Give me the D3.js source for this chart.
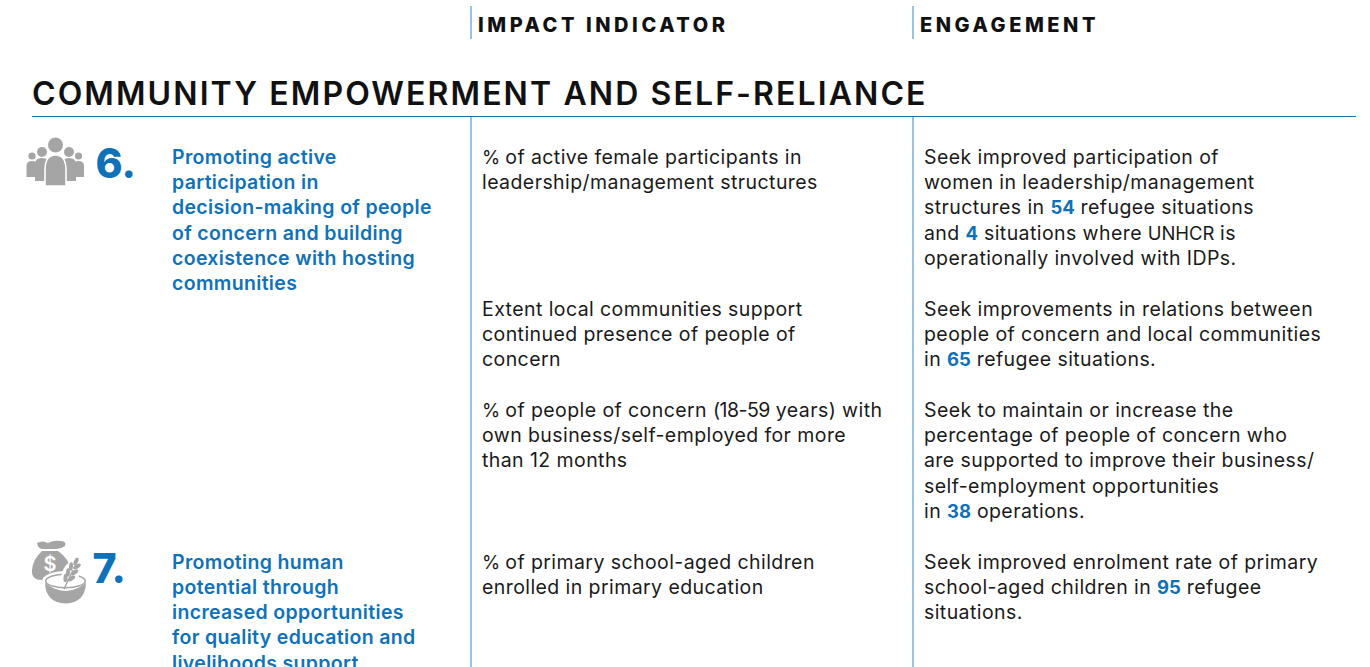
<!DOCTYPE html>
<html><head><meta charset="utf-8">
<style>html,body{margin:0;padding:0;background:#fff;overflow:hidden}svg{display:block}text{font-family:Inter,"Noto Sans",sans-serif}</style>
<script src="https://cdn.jsdelivr.net/npm/d3@7/dist/d3.min.js"></script></head><body><script>
const columnHeads = ["IMPACT INDICATOR", "ENGAGEMENT"];
const sectionTitle = "COMMUNITY EMPOWERMENT AND SELF-RELIANCE";
const goalNumbers = [{label:"6.", row:0},{label:"7.", row:16}];
const goalLines = [
 [0,"Promoting active"],[1,"participation in"],[2,"decision-making of people"],[3,"of concern and building"],[4,"coexistence with hosting"],[5,"communities"],
 [16,"Promoting human"],[17,"potential through"],[18,"increased opportunities"],[19,"for quality education and"],[20,"livelihoods support"]];
const indicatorLines = [
 [0,"% of active female participants in"],[1,"leadership/management structures"],
 [6,"Extent local communities support"],[7,"continued presence of people of"],[8,"concern"],
 [10,"% of people of concern (18-59 years) with"],[11,"own business/self-employed for more"],[12,"than 12 months"],
 [16,"% of primary school-aged children"],[17,"enrolled in primary education"]];
const engagementLines = [
 [0,"Seek improved participation of"],[1,"women in leadership/management"],[2,"structures in *54* refugee situations"],[3,"and *4* situations where UNHCR is"],[4,"operationally involved with IDPs."],
 [6,"Seek improvements in relations between"],[7,"people of concern and local communities"],[8,"in *65* refugee situations."],
 [10,"Seek to maintain or increase the"],[11,"percentage of people of concern who"],[12,"are supported to improve their business/"],[13,"self-employment opportunities"],[14,"in *38* operations."],
 [16,"Seek improved enrolment rate of primary"],[17,"school-aged children in *95* refugee"],[18,"situations."]];

const W=1370,H=667, BLUE="#0f72b9", INK="#1a1a1a", GREY="#a5a5a5", RULE="#6ea9d8";
const svg=d3.select("body").append("svg").attr("width",W).attr("height",H);
const rowY=d3.scaleLinear().domain([0,20]).range([157.1,663.1]);
const x={goal:172,indicator:482,engagement:924};

[471,913].forEach(c=>{
 svg.append("line").attr("x1",c).attr("x2",c).attr("y1",6).attr("y2",39).attr("stroke",RULE).attr("stroke-width",1.4);
 svg.append("line").attr("x1",c).attr("x2",c).attr("y1",117).attr("y2",H).attr("stroke",RULE).attr("stroke-width",1.4);
});
svg.append("line").attr("x1",32).attr("x2",1356).attr("y1",116.5).attr("y2",116.5).attr("stroke",BLUE).attr("stroke-width",1.2);

svg.selectAll("text.head").data(columnHeads).join("text").attr("class","head")
 .attr("x",(d,i)=>[478,920][i]).attr("y",32).text(d=>d)
 .attr("font-size",20).attr("font-weight",800).attr("letter-spacing",3.55).attr("fill","#111");
svg.append("text").attr("x",32).attr("y",105).text(sectionTitle)
 .attr("font-size",32).attr("font-weight",600).attr("letter-spacing",2.1).attr("fill","#111");

function lines(data,key,color,weight,spacing){
 const t=svg.append("g").selectAll("text").data(data).join("text")
  .attr("x",x[key]).attr("y",d=>rowY(d[0])+6.6).attr("font-size",19.5).attr("letter-spacing",spacing)
  .attr("font-weight",weight).attr("fill",color);
 t.each(function(d){
  const s=d3.select(this);
  d[1].split("*").forEach((seg,i)=>{
   if(i%2){ s.append("tspan").text(seg).attr("font-weight",700).attr("font-size",18.5).attr("letter-spacing",0).attr("fill",BLUE); return; }
   seg.split(/(%|\(18-59|UNHCR)/).forEach((part,j)=>{
     const sp=s.append("tspan").text(part);
     if(j%2){
       if(part==="%") sp.attr("font-size",18.5).attr("letter-spacing",-0.8);
       else if(part==="UNHCR") sp.attr("font-size",18.5).attr("letter-spacing",-0.1);
       else sp.attr("letter-spacing",-0.5);
     }
   });
  });
 });
}
lines(goalLines,"goal",BLUE,600,0.33);
lines(indicatorLines,"indicator",INK,400,0.42);
lines(engagementLines,"engagement",INK,400,0.42);

svg.selectAll("text.num").data(goalNumbers).join("text").attr("class","num")
 .attr("x",(d,i)=>[95.5,92.5][i]).attr("y",d=>rowY(d.row)+21)
 .text(d=>d.label).attr("font-size",41).attr("font-weight",800).attr("fill",BLUE);

// people icon
const people=svg.append("g").attr("fill",GREY);
function person(cx,headY,r,w,top,bot){
 people.append("circle").attr("cx",cx).attr("cy",headY).attr("r",r);
 people.append("path").attr("d",`M${cx-w},${bot}V${top+w*.9}Q${cx-w},${top} ${cx},${top}Q${cx+w},${top} ${cx+w},${top+w*.9}V${bot}Z`);
}
person(32,156,3.6,5.5,161,177);person(78.5,156,3.6,5.5,161,177);
person(42,152,5,7,158,181);person(69,152,5,7,158,181);
people.append("path").attr("d","M45,186V170Q45,155 55.500,155Q66,155 66,170V186Z").attr("stroke","#fff").attr("stroke-width",1.6);
people.append("circle").attr("cx",55.5).attr("cy",145).attr("r",7.5);

// money bag + bowl icon
const ic=svg.append("g").attr("fill",GREY);
ic.append("path").attr("d","M37,543Q42,540 48,543Q54,540 60,541Q67,541 65,546Q61,549 56,549H43Q38,549 37,543Z");
ic.append("path").attr("d","M42,551H58Q70,559 71,572Q72,578 60,580H42Q31,580 32,570Q33,559 42,551Z");
ic.append("text").attr("x",50).attr("y",571).attr("text-anchor","middle").attr("font-size",20).attr("font-weight",600).attr("fill","#fff").text("$");
ic.append("ellipse").attr("cx",65.5).attr("cy",581).attr("rx",23.5).attr("ry",10).attr("fill","#fff");
ic.append("path").attr("d","M45,583Q56,591 65.500,591Q75,591 86,583Q85,603 65.500,603.500Q46,603 45,583Z");
ic.append("ellipse").attr("cx",65.5).attr("cy",581).attr("rx",19.8).attr("ry",6.8).attr("fill","#fff").attr("stroke",GREY).attr("stroke-width",1.5);
// wheat ear
ic.append("ellipse").attr("cx",71).attr("cy",573).attr("rx",8.5).attr("ry",14).attr("fill","#fff").attr("transform","rotate(28 71 573)");
ic.append("path").attr("d","M64,589L73,570").attr("stroke",GREY).attr("stroke-width",1.4).attr("fill","none");
[[65.5,578,5],[68,572.5,5],[71,566.5,5],[71.5,578.5,58],[74.5,572.500,58],[77,566.500,58],[76,561.5,25]].forEach(([cx,cy,a])=>{
 ic.append("ellipse").attr("cx",cx).attr("cy",cy).attr("rx",2).attr("ry",4.2)
  .attr("transform",`rotate(${a} ${cx} ${cy})`);
});
</script></body></html>
